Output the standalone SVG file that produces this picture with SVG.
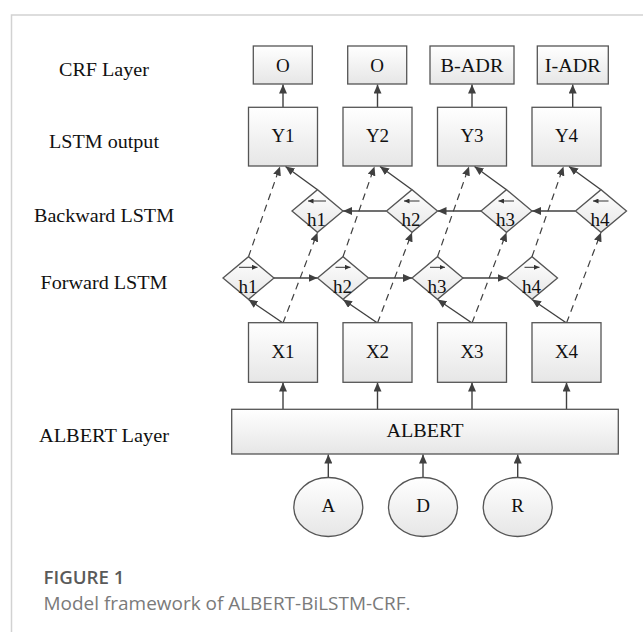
<svg xmlns="http://www.w3.org/2000/svg" width="643" height="632" viewBox="0 0 643 632">
<defs>
<linearGradient id="g" x1="0" y1="0" x2="0" y2="1">
<stop offset="0" stop-color="#ffffff"/>
<stop offset="1" stop-color="#e6e6e6"/>
</linearGradient>
<marker id="ah" markerUnits="userSpaceOnUse" markerWidth="10" markerHeight="8" refX="9" refY="4" orient="auto">
<path d="M0,0 L9,4 L0,8 z" fill="#404040"/>
</marker>
<marker id="sh" markerUnits="userSpaceOnUse" markerWidth="6" markerHeight="5" refX="5.5" refY="2.5" orient="auto">
<path d="M0,0 L5.5,2.5 L0,5 z" fill="#333"/>
</marker>
<style>
.box{fill:url(#g);stroke:#555;stroke-width:1.3}
.t{font-family:"Liberation Serif","Times New Roman",serif;font-size:19px;fill:#111;text-anchor:middle}
.lab{font-family:"Liberation Serif","Times New Roman",serif;font-size:18px;fill:#111;text-anchor:middle}
.c{stroke:#404040;stroke-width:1.4;fill:none;marker-end:url(#ah)}
.d{stroke:#404040;stroke-width:1.2;fill:none;stroke-dasharray:7,5;marker-end:url(#ah)}
.s{stroke:#333;stroke-width:1;marker-end:url(#sh)}
</style>
</defs>
<rect width="643" height="632" fill="#fff"/>
<path d="M11.5,632 V15 H643" fill="none" stroke="#d2d2d2" stroke-width="1.5"/>

<g id="labels">
<text class="lab" x="104" y="75.5" textLength="90" lengthAdjust="spacingAndGlyphs">CRF Layer</text>
<text class="lab" x="104" y="148.3" textLength="110" lengthAdjust="spacingAndGlyphs">LSTM output</text>
<text class="lab" x="104" y="222.3" textLength="140" lengthAdjust="spacingAndGlyphs">Backward LSTM</text>
<text class="lab" x="104" y="289" textLength="127" lengthAdjust="spacingAndGlyphs">Forward LSTM</text>
<text class="lab" x="104" y="441.7" textLength="130" lengthAdjust="spacingAndGlyphs">ALBERT Layer</text>
</g>

<g id="connectors">
<line class="c" x1="283" y1="107" x2="283" y2="84.5"/>
<line class="c" x1="377.5" y1="107" x2="377.5" y2="84.5"/>
<line class="c" x1="472" y1="107" x2="472" y2="84.5"/>
<line class="c" x1="572.7" y1="107" x2="572.7" y2="84.5"/>
<line class="c" x1="283" y1="409.3" x2="283" y2="382.5"/>
<line class="c" x1="377.5" y1="409.3" x2="377.5" y2="382.5"/>
<line class="c" x1="472" y1="409.3" x2="472" y2="382.5"/>
<line class="c" x1="566.5" y1="409.3" x2="566.5" y2="382.5"/>
<line class="c" x1="328.3" y1="477.5" x2="328.3" y2="454.5"/>
<line class="c" x1="423" y1="477.5" x2="423" y2="454.5"/>
<line class="c" x1="517.7" y1="477.5" x2="517.7" y2="454.5"/>
<line class="c" x1="283" y1="323" x2="248.5" y2="299.5"/>
<line class="c" x1="377.5" y1="323" x2="343" y2="299.5"/>
<line class="c" x1="472" y1="323" x2="437.5" y2="299.5"/>
<line class="c" x1="566.5" y1="323" x2="532" y2="299.5"/>
<line class="d" x1="283" y1="323" x2="317.5" y2="232.5"/>
<line class="d" x1="377.5" y1="323" x2="412" y2="232.5"/>
<line class="d" x1="472" y1="323" x2="506.5" y2="232.5"/>
<line class="d" x1="566.5" y1="323" x2="601" y2="232.5"/>
<line class="d" x1="248.5" y1="256.7" x2="280" y2="166.5"/>
<line class="d" x1="343" y1="256.7" x2="374.5" y2="166.5"/>
<line class="d" x1="437.5" y1="256.7" x2="469" y2="166.5"/>
<line class="d" x1="532" y1="256.7" x2="563.5" y2="166.5"/>
<line class="c" x1="317.5" y1="189.7" x2="285.5" y2="166.5"/>
<line class="c" x1="412" y1="189.7" x2="380" y2="166.5"/>
<line class="c" x1="506.5" y1="189.7" x2="474.5" y2="166.5"/>
<line class="c" x1="601" y1="189.7" x2="569" y2="166.5"/>
<line class="c" x1="274" y1="278" x2="317.5" y2="278"/>
<line class="c" x1="368.5" y1="278" x2="412" y2="278"/>
<line class="c" x1="463" y1="278" x2="506.5" y2="278"/>
<line class="c" x1="386.5" y1="211" x2="343" y2="211"/>
<line class="c" x1="481" y1="211" x2="437.5" y2="211"/>
<line class="c" x1="575.5" y1="211" x2="532" y2="211"/>
</g>

<g id="crf1"><rect class="box" x="253.3" y="46" width="59" height="38"/><text class="t" x="282.8" y="71.7">O</text></g>
<g id="crf2"><rect class="box" x="347.7" y="46" width="59" height="38"/><text class="t" x="377.2" y="71.7">O</text></g>
<g id="crf3"><rect class="box" x="430" y="46" width="84" height="38"/><text class="t" x="472" y="71.7" textLength="63" lengthAdjust="spacingAndGlyphs">B-ADR</text></g>
<g id="crf4"><rect class="box" x="537.3" y="46" width="71" height="38"/><text class="t" x="572.8" y="71.7" textLength="56" lengthAdjust="spacingAndGlyphs">I-ADR</text></g>

<g id="y1"><rect class="box" x="248.5" y="107.3" width="69" height="58.7"/><text class="t" x="283" y="142.3">Y1</text></g>
<g id="y2"><rect class="box" x="343" y="107.3" width="69" height="58.7"/><text class="t" x="377.5" y="142.3">Y2</text></g>
<g id="y3"><rect class="box" x="437.5" y="107.3" width="69" height="58.7"/><text class="t" x="472" y="142.3">Y3</text></g>
<g id="y4"><rect class="box" x="532" y="107.3" width="69" height="58.7"/><text class="t" x="566.5" y="142.3">Y4</text></g>

<g id="bh1"><path class="box" d="M292,211 L317.5,189.7 L343,211 L317.5,232.3 z"/><line class="s" x1="326" y1="201" x2="308" y2="201"/><text class="t" x="316.5" y="226">h1</text></g>
<g id="bh2"><path class="box" d="M386.5,211 L412,189.7 L437.5,211 L412,232.3 z"/><line class="s" x1="419.5" y1="201" x2="404" y2="201"/><text class="t" x="411" y="226">h2</text></g>
<g id="bh3"><path class="box" d="M481,211 L506.5,189.7 L532,211 L506.5,232.3 z"/><line class="s" x1="514" y1="201" x2="498.5" y2="201"/><text class="t" x="505.5" y="226">h3</text></g>
<g id="bh4"><path class="box" d="M575.5,211 L601,189.7 L626.5,211 L601,232.3 z"/><line class="s" x1="608.5" y1="201" x2="593" y2="201"/><text class="t" x="600" y="226">h4</text></g>

<g id="fh1"><path class="box" d="M223,278 L248.5,256.7 L274,278 L248.5,299.3 z"/><line class="s" x1="239" y1="267.3" x2="257.5" y2="267.3"/><text class="t" x="248" y="292.7">h1</text></g>
<g id="fh2"><path class="box" d="M317.5,278 L343,256.7 L368.5,278 L343,299.3 z"/><line class="s" x1="335.5" y1="267.3" x2="350.5" y2="267.3"/><text class="t" x="342.5" y="292.7">h2</text></g>
<g id="fh3"><path class="box" d="M412,278 L437.5,256.7 L463,278 L437.5,299.3 z"/><line class="s" x1="430" y1="267.3" x2="445" y2="267.3"/><text class="t" x="437" y="292.7">h3</text></g>
<g id="fh4"><path class="box" d="M506.5,278 L532,256.7 L557.5,278 L532,299.3 z"/><line class="s" x1="524.5" y1="267.3" x2="539.5" y2="267.3"/><text class="t" x="531.5" y="292.7">h4</text></g>

<g id="x1"><rect class="box" x="248.5" y="322.7" width="69" height="59.6"/><text class="t" x="283" y="358.3">X1</text></g>
<g id="x2"><rect class="box" x="343" y="322.7" width="69" height="59.6"/><text class="t" x="377.5" y="358.3">X2</text></g>
<g id="x3"><rect class="box" x="437.5" y="322.7" width="69" height="59.6"/><text class="t" x="472" y="358.3">X3</text></g>
<g id="x4"><rect class="box" x="532" y="322.7" width="69" height="59.6"/><text class="t" x="566.5" y="358.3">X4</text></g>

<g id="albert"><rect class="box" x="231.7" y="409.3" width="386.6" height="44.7"/><text class="t" x="425" y="436.7" textLength="77" lengthAdjust="spacingAndGlyphs">ALBERT</text></g>

<g id="cA"><ellipse class="box" cx="328.3" cy="507" rx="34.5" ry="29.5"/><text class="t" x="328.3" y="512.3">A</text></g>
<g id="cD"><ellipse class="box" cx="423" cy="507" rx="34.5" ry="29.5"/><text class="t" x="423" y="512.3">D</text></g>
<g id="cR"><ellipse class="box" cx="517.7" cy="507" rx="34.5" ry="29.5"/><text class="t" x="517.7" y="512.3">R</text></g>

<g id="caption">
<text x="43.5" y="584" font-family="'Open Sans','Noto Sans',sans-serif" font-size="18.5" font-weight="600" fill="#5a5a5a" textLength="81" lengthAdjust="spacingAndGlyphs">FIGURE 1</text>
<text x="43.5" y="609.5" font-family="'Open Sans','Noto Sans',sans-serif" font-size="17.5" fill="#7a7a7a" textLength="367" lengthAdjust="spacingAndGlyphs">Model framework of ALBERT-BiLSTM-CRF.</text>
</g>
</svg>
